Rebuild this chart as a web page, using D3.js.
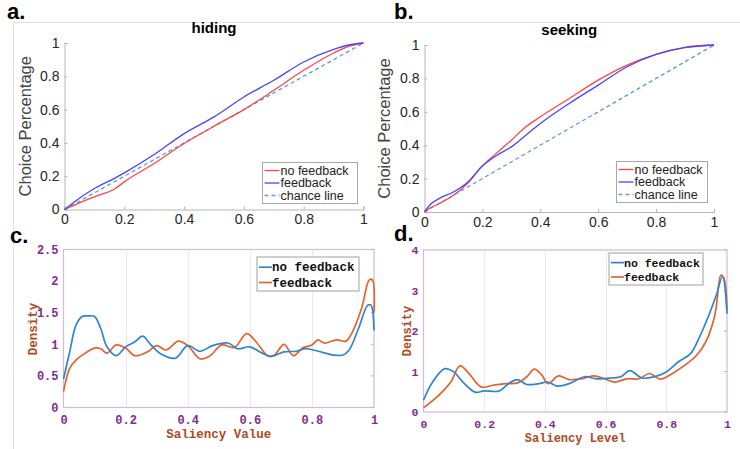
<!DOCTYPE html>
<html>
<head>
<meta charset="utf-8">
<script src="https://cdn.jsdelivr.net/npm/d3@7"></script>
<style>
  body { margin: 0; background: #fff; }
  svg { display: block; }
</style>
</head>
<body>
<div id="chart"></div>
<script>
// ---- data ----
var hidingX      = [0, 0.05, 0.1, 0.17, 0.2, 0.3, 0.4, 0.5, 0.6, 0.7, 0.8, 0.9, 0.95, 1];
var hidingNoFb   = [0, 0.04, 0.076, 0.126, 0.166, 0.276, 0.396, 0.5, 0.6, 0.716, 0.836, 0.94, 0.98, 1];
var hidingFb     = [0, 0.068, 0.126, 0.19, 0.22, 0.33, 0.456, 0.556, 0.676, 0.776, 0.886, 0.962, 0.988, 1];

var seekingX     = [0, 0.02, 0.05, 0.1, 0.15, 0.2, 0.25, 0.3, 0.35, 0.4, 0.5, 0.6, 0.7, 0.8, 0.9, 1];
var seekingNoFb  = [0, 0.025, 0.05, 0.1, 0.174, 0.276, 0.354, 0.43, 0.51, 0.57, 0.68, 0.79, 0.88, 0.944, 0.984, 1];
var seekingFb    = [0, 0.045, 0.08, 0.12, 0.18, 0.276, 0.34, 0.39, 0.46, 0.53, 0.65, 0.76, 0.87, 0.944, 0.986, 1];

var chanceX = [0, 1];

var valueNoFbX = [0, 0.02, 0.04, 0.06, 0.08, 0.1, 0.12, 0.14, 0.17, 0.2, 0.23, 0.255, 0.28, 0.31, 0.36, 0.4, 0.44, 0.48, 0.53, 0.56, 0.6, 0.64, 0.67, 0.71, 0.75, 0.78, 0.82, 0.87, 0.9, 0.92, 0.95, 0.98, 0.99, 1];
var valueNoFb  = [0.45, 0.88, 1.3, 1.44, 1.45, 1.44, 1.25, 0.96, 0.82, 0.96, 1.04, 1.13, 1.0, 0.86, 0.78, 0.98, 0.89, 0.98, 1.02, 0.93, 0.96, 0.86, 0.81, 0.88, 0.89, 0.93, 0.89, 0.83, 0.83, 0.91, 1.25, 1.62, 1.62, 1.22];
var valueFbX   = [0, 0.02, 0.04, 0.07, 0.1, 0.12, 0.14, 0.17, 0.2, 0.23, 0.27, 0.3, 0.33, 0.37, 0.4, 0.44, 0.47, 0.51, 0.55, 0.59, 0.62, 0.66, 0.68, 0.71, 0.74, 0.77, 0.8, 0.82, 0.84, 0.88, 0.91, 0.93, 0.96, 0.985, 0.995, 1];
var valueFb    = [0.25, 0.62, 0.75, 0.86, 0.94, 0.93, 0.86, 0.99, 0.94, 0.82, 0.88, 0.98, 0.91, 1.05, 0.98, 0.77, 0.81, 0.99, 0.95, 1.17, 1.04, 0.81, 0.83, 1.0, 0.82, 0.94, 0.99, 1.07, 1.02, 1.07, 1.05, 1.19, 1.57, 2.02, 2.02, 1.5];

var levelNoFbX = [0, 0.03, 0.07, 0.1, 0.13, 0.17, 0.2, 0.25, 0.28, 0.31, 0.34, 0.38, 0.41, 0.44, 0.48, 0.53, 0.57, 0.62, 0.65, 0.68, 0.72, 0.76, 0.8, 0.84, 0.88, 0.91, 0.94, 0.965, 0.985, 1];
var levelNoFb  = [0.29, 0.74, 1.07, 0.99, 0.74, 0.49, 0.52, 0.52, 0.7, 0.8, 0.68, 0.7, 0.74, 0.64, 0.7, 0.87, 0.82, 0.84, 0.87, 1.02, 0.84, 0.87, 0.99, 1.24, 1.44, 1.86, 2.39, 2.89, 3.34, 2.43];
var levelFbX   = [0, 0.05, 0.09, 0.12, 0.15, 0.19, 0.23, 0.27, 0.31, 0.34, 0.365, 0.39, 0.41, 0.445, 0.48, 0.52, 0.56, 0.6, 0.63, 0.67, 0.71, 0.745, 0.78, 0.82, 0.86, 0.9, 0.93, 0.96, 0.98, 0.99, 1];
var levelFb    = [0.1, 0.41, 0.74, 1.14, 0.95, 0.62, 0.66, 0.7, 0.72, 0.87, 1.06, 0.91, 0.7, 0.89, 0.8, 0.82, 0.89, 0.81, 0.74, 0.82, 0.82, 0.95, 0.81, 0.95, 1.15, 1.4, 1.73, 2.39, 3.38, 3.3, 2.52];

var rocTicks = [0, 0.2, 0.4, 0.6, 0.8, 1];
var rocLegend = ['no feedback', 'feedback', 'chance line'];
var densLegend = ['no feedback', 'feedback'];

var W = 740, H = 449;
var sans = '"Liberation Sans", Arial, Helvetica, sans-serif';
var mono = '"Liberation Mono", "DejaVu Sans Mono", monospace';
var purple = '#7e2f8e', brown = '#b04a24';
var mBlue = '#2f86cf', mOrange = '#e5622d';

var svg = d3.select('#chart').append('svg')
    .attr('width', W)
    .attr('height', H);

// faint frame lines from the source figure
svg.append('line').attr('x1', 13).attr('x2', W).attr('y1', 22.5).attr('y2', 22.5)
    .attr('stroke', '#e2e2e2').attr('stroke-width', 1);
svg.append('line').attr('x1', 13.5).attr('x2', 13.5).attr('y1', 22).attr('y2', H)
    .attr('stroke', '#e2e2e2').attr('stroke-width', 1);

function zip(xs, ys) {
    return xs.map(function(x, i) { return [x, ys[i]]; });
}

// ---- ROC-style panels (a, b) ----
function rocPanel(opt) {
    var x = d3.scaleLinear().domain([0, 1]).range([opt.x0, opt.x1]);
    var y = d3.scaleLinear().domain([0, 1]).range([opt.y0, opt.y1]);
    var g = svg.append('g');

    var xAxis = d3.axisBottom(x).tickValues(rocTicks).tickSize(-3).tickPadding(5)
        .tickFormat(d3.format('~g'));
    var yAxis = d3.axisLeft(y).tickValues(rocTicks).tickSize(-3).tickPadding(5)
        .tickFormat(d3.format('~g'));

    var gx = g.append('g').attr('transform', 'translate(0,' + opt.y0 + ')').call(xAxis);
    var gy = g.append('g').attr('transform', 'translate(' + opt.x0 + ',0)').call(yAxis);
    [gx, gy].forEach(function(a) {
        a.select('.domain').attr('stroke', '#b5b5b5');
        a.selectAll('.tick line').attr('stroke', '#b5b5b5');
        a.selectAll('text').attr('fill', '#262626')
            .style('font-family', sans).style('font-size', '14px');
    });

    var line = d3.line()
        .x(function(d) { return x(d[0]); })
        .y(function(d) { return y(d[1]); })
        .curve(d3.curveMonotoneX);

    g.append('path').attr('d', line(zip(chanceX, chanceX)))
        .attr('fill', 'none').attr('stroke', '#5b9bd8').attr('stroke-width', 1.3)
        .attr('stroke-dasharray', '4,3');
    g.append('path').attr('d', line(zip(opt.xs, opt.noFb)))
        .attr('fill', 'none').attr('stroke', '#ff4545').attr('stroke-width', 1.3);
    g.append('path').attr('d', line(zip(opt.xs, opt.fb)))
        .attr('fill', 'none').attr('stroke', '#4646ff').attr('stroke-width', 1.3);

    g.append('text')
        .attr('x', (opt.x0 + opt.x1) / 2).attr('y', opt.y1 - 10)
        .attr('text-anchor', 'middle')
        .style('font-family', sans).style('font-size', '15px').style('font-weight', 'bold')
        .text(opt.title);

    g.append('text')
        .attr('transform', 'translate(' + opt.ylabX + ',' + ((opt.y0 + opt.y1) / 2) + ') rotate(-90)')
        .attr('text-anchor', 'middle')
        .attr('fill', '#444')
        .style('font-family', sans).style('font-size', '16.5px')
        .text('Choice Percentage');

    // legend
    var lg = g.append('g').attr('transform', 'translate(' + opt.legX + ',' + opt.legY + ')');
    lg.append('rect').attr('width', opt.legW).attr('height', 41)
        .attr('fill', '#fff').attr('stroke', '#a8a8a8').attr('stroke-width', 1);
    var cols = ['#ff4545', '#4646ff', '#5b9bd8'];
    rocLegend.forEach(function(t, i) {
        var yy = 8 + i * 12.5;
        lg.append('line').attr('x1', 2).attr('x2', 17).attr('y1', yy).attr('y2', yy)
            .attr('stroke', cols[i]).attr('stroke-width', 1.3)
            .attr('stroke-dasharray', i === 2 ? '4,3' : null);
        lg.append('text').attr('x', 18).attr('y', yy + 4.3)
            .attr('fill', '#222')
            .style('font-family', sans).style('font-size', '12.5px')
            .text(t);
    });
}

rocPanel({ x0: 64.5, x1: 363.5, y0: 209.5, y1: 43, xs: hidingX, noFb: hidingNoFb, fb: hidingFb,
    title: 'hiding', ylabX: 31, legX: 262.5, legY: 162.5, legW: 95 });
rocPanel({ x0: 424.5, x1: 714, y0: 212, y1: 45, xs: seekingX, noFb: seekingNoFb, fb: seekingFb,
    title: 'seeking', ylabX: 390, legX: 616.5, legY: 161.5, legW: 91 });

// ---- density panels (c, d) ----
function densPanel(opt) {
    var x = d3.scaleLinear().domain([0, 1]).range([opt.x0, opt.x1]);
    var y = d3.scaleLinear().domain([0, opt.yMax]).range([opt.y0, opt.y1]);
    var g = svg.append('g');

    // vertical grid
    g.selectAll('.grid').data([0.2, 0.4, 0.6, 0.8]).enter().append('line')
        .attr('x1', function(d) { return Math.round(x(d)) + 0.5; })
        .attr('x2', function(d) { return Math.round(x(d)) + 0.5; })
        .attr('y1', opt.y1).attr('y2', opt.y0)
        .attr('stroke', '#ece6f0').attr('stroke-width', 1);

    // frame
    g.append('rect').attr('x', opt.x0).attr('y', opt.y1)
        .attr('width', opt.x1 - opt.x0).attr('height', opt.y0 - opt.y1)
        .attr('fill', 'none').attr('stroke', '#d6b8e2').attr('stroke-width', 1.2);

    var xAxis = d3.axisBottom(x).tickValues([0, 0.2, 0.4, 0.6, 0.8, 1]).tickSize(0).tickPadding(8)
        .tickFormat(d3.format('~g'));
    var yAxis = d3.axisLeft(y).tickValues(opt.yTicks).tickSize(0).tickPadding(5)
        .tickFormat(d3.format('~g'));
    var gx = g.append('g').attr('transform', 'translate(0,' + opt.y0 + ')').call(xAxis);
    var gy = g.append('g').attr('transform', 'translate(' + opt.x0 + ',0)').call(yAxis);
    [gx, gy].forEach(function(a) {
        a.select('.domain').remove();
        a.selectAll('text').attr('fill', purple)
            .style('font-family', mono).style('font-weight', 'bold')
            .style('font-size', opt.fs + 'px');
    });

    // small right-side ticks
    g.selectAll('.rt').data(opt.yTicks).enter().append('line')
        .attr('x1', opt.x1 - 3).attr('x2', opt.x1)
        .attr('y1', function(d) { return y(d); }).attr('y2', function(d) { return y(d); })
        .attr('stroke', '#c9a6d6');

    var line = d3.line()
        .x(function(d) { return x(d[0]); })
        .y(function(d) { return y(d[1]); })
        .curve(d3.curveCatmullRom.alpha(0.5));

    g.append('path').attr('d', line(zip(opt.fbX, opt.fb)))
        .attr('fill', 'none').attr('stroke', mOrange).attr('stroke-width', 1.7);
    g.append('path').attr('d', line(zip(opt.noFbX, opt.noFb)))
        .attr('fill', 'none').attr('stroke', mBlue).attr('stroke-width', 1.7);

    g.append('text')
        .attr('x', (opt.x0 + opt.x1) / 2 + opt.xlabDx).attr('y', opt.xlabY)
        .attr('text-anchor', 'middle').attr('fill', brown)
        .style('font-family', mono).style('font-weight', 'bold').style('font-size', opt.fs + 0.5 + 'px')
        .text(opt.xlab);
    g.append('text')
        .attr('transform', 'translate(' + opt.ylabX + ',' + opt.ylabY + ') rotate(-90)')
        .attr('text-anchor', 'middle').attr('fill', brown)
        .style('font-family', mono).style('font-weight', 'bold').style('font-size', opt.fs + 0.5 + 'px')
        .text('Density');

    var lg = g.append('g').attr('transform', 'translate(' + opt.legX + ',' + opt.legY + ')');
    lg.append('rect').attr('width', opt.legW).attr('height', opt.legH)
        .attr('fill', '#fff').attr('stroke', '#a0a0a0').attr('stroke-width', 1);
    [mBlue, mOrange].forEach(function(c, i) {
        var yy = opt.legH * 0.3 + i * opt.legH * 0.45;
        lg.append('line').attr('x1', 2).attr('x2', 15).attr('y1', yy).attr('y2', yy)
            .attr('stroke', c).attr('stroke-width', 1.7);
        lg.append('text').attr('x', 15).attr('y', yy + 4)
            .attr('fill', '#111')
            .style('font-family', mono).style('font-weight', 'bold').style('font-size', opt.legFs + 'px')
            .text(densLegend[i]);
    });
}

densPanel({ x0: 63.5, x1: 374, y0: 407.5, y1: 249.5, yMax: 2.5, yTicks: [0, 0.5, 1, 1.5, 2, 2.5],
    noFbX: valueNoFbX, noFb: valueNoFb, fbX: valueFbX, fb: valueFb, fs: 12,
    xlab: 'Saliency Value', xlabDx: 0, xlabY: 438, ylabX: 37, ylabY: 329,
    legX: 257, legY: 257, legW: 102, legH: 34, legFs: 12.5 });
densPanel({ x0: 423.5, x1: 727, y0: 412, y1: 250, yMax: 4, yTicks: [0, 1, 2, 3, 4],
    noFbX: levelNoFbX, noFb: levelNoFb, fbX: levelFbX, fb: levelFb, fs: 11.5,
    xlab: 'Saliency Level', xlabDx: 0, xlabY: 442, ylabX: 411, ylabY: 331,
    legX: 609, legY: 253, legW: 94, legH: 32, legFs: 11.5 });

// panel letters
[['a.', 7, 19], ['b.', 394, 19], ['c.', 10, 243], ['d.', 394, 241]].forEach(function(p) {
    svg.append('text').attr('x', p[1]).attr('y', p[2])
        .style('font-family', sans).style('font-weight', 'bold').style('font-size', '22px')
        .text(p[0]);
});
</script>
</body>
</html>
